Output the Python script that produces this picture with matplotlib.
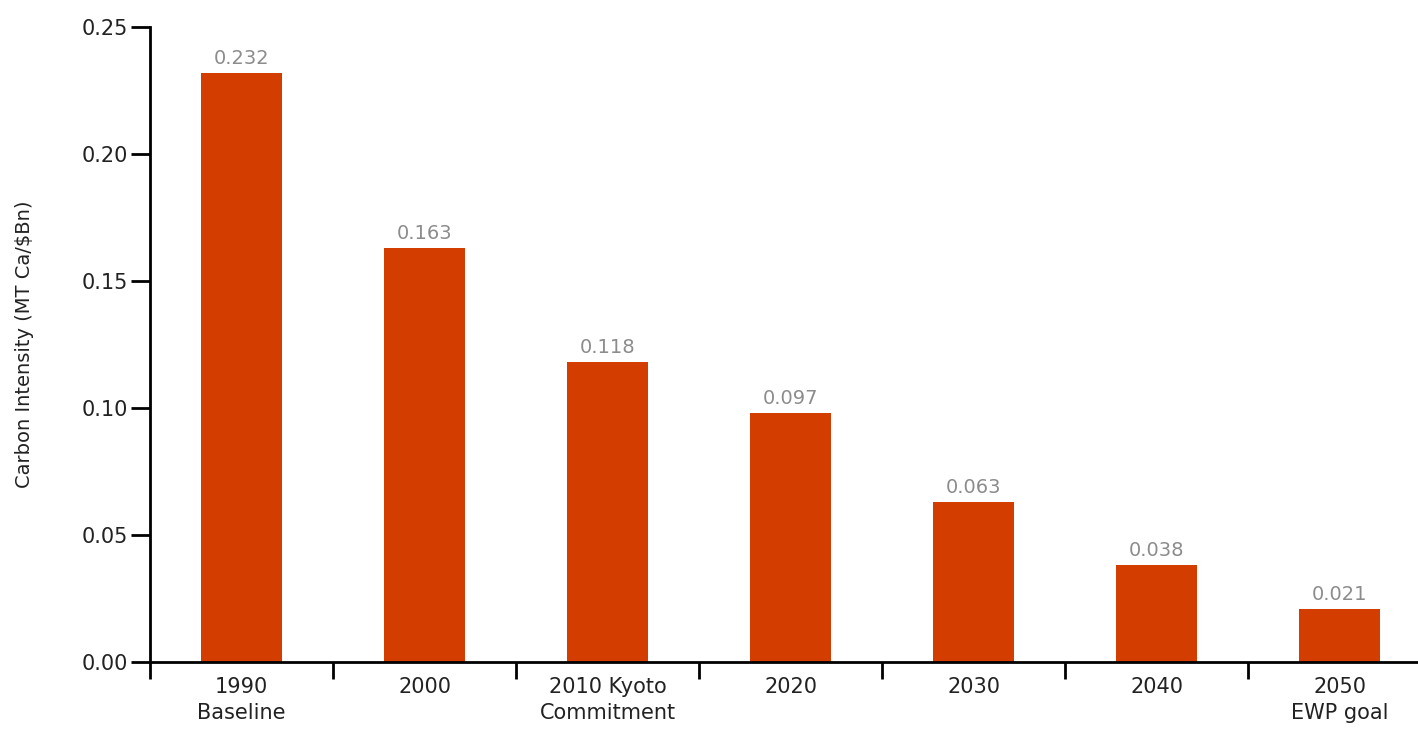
import numpy as np
import matplotlib.pyplot as plt
from matplotlib.ticker import FixedLocator

# Carbon intensity by milestone year
categories = ["1990\nBaseline", "2000", "2010 Kyoto\nCommitment", "2020", "2030", "2040", "2050\nEWP goal"]
values = [0.232, 0.163, 0.118, 0.098, 0.063, 0.038, 0.021]
value_labels = ["0.232", "0.163", "0.118", "0.097", "0.063", "0.038", "0.021"]
yticks = [0.00, 0.05, 0.10, 0.15, 0.20, 0.25]

BAR_COLOR = "#D43D00"

fig = plt.figure(figsize=(14.18, 7.30), dpi=100)
# plot area runs a little past the right edge of the figure, like the original
ax = fig.add_axes([0.1058, 0.0932, 0.9034, 0.8698])

x = np.arange(len(categories))
bars = ax.bar(x, values, width=0.44, color=BAR_COLOR)

for b, lab in zip(bars, value_labels):
    ax.text(b.get_x() + b.get_width() / 2, b.get_height() + 0.002, lab,
            ha="center", va="bottom", fontsize=14, color="#8c8c8c")

ax.set_xlim(-0.5, len(categories) - 0.5)
ax.set_ylim(0, 0.25)
ax.set_yticks(yticks)
ax.set_yticklabels([f"{t:.2f}" for t in yticks], fontsize=15, color="#222222")

ax.set_xticks(x)
ax.set_xticklabels(categories, fontsize=15, color="#222222", linespacing=1.35)
ax.xaxis.set_minor_locator(FixedLocator(np.arange(-0.5, len(categories), 1.0)))
ax.tick_params(axis="x", which="major", length=0, pad=11)
ax.tick_params(axis="x", which="minor", length=12, width=2, direction="out")
ax.tick_params(axis="y", which="major", length=14, width=2, direction="out", pad=2)

ax.set_ylabel("Carbon Intensity (MT Ca/$Bn)", fontsize=14, color="#222222", labelpad=34)

for side in ["top", "right"]:
    ax.spines[side].set_visible(False)
for side in ["left", "bottom"]:
    ax.spines[side].set_linewidth(2)

fig.savefig("out.png", dpi=100)
